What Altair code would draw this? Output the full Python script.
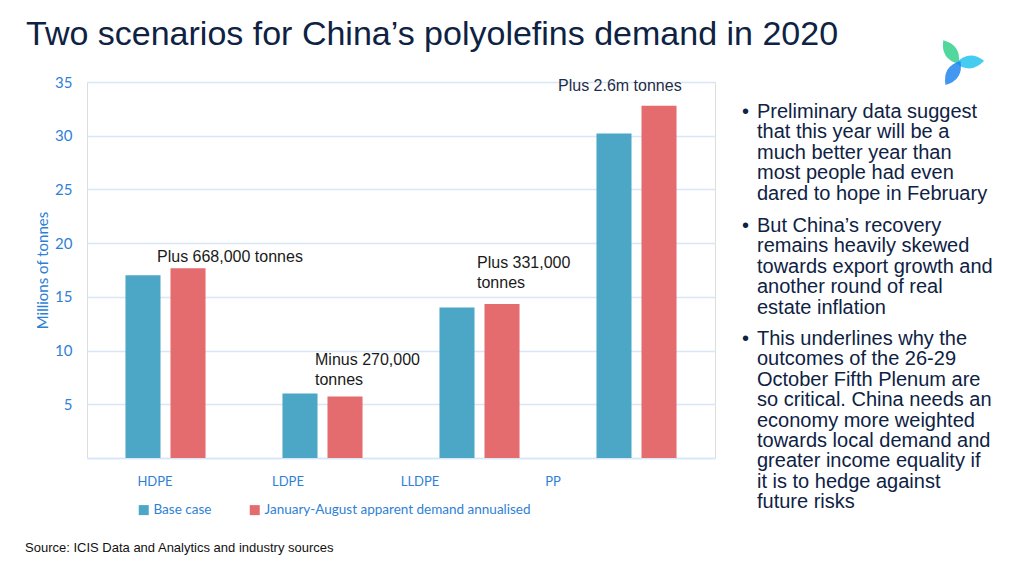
import altair as alt
import pandas as pd

categories = ["HDPE", "LDPE", "LLDPE", "PP"]
series = ["Base case", "January-August apparent demand annualised"]
base_case = [17.0, 6.0, 14.0, 30.2]
annualised = [17.67, 5.73, 14.33, 32.8]
y_ticks = [0, 5, 10, 15, 20, 25, 30, 35]

title_text = "Two scenarios for China\u2019s polyolefins demand in 2020"
source_text = "Source: ICIS Data and Analytics and industry sources"
annotations = [
    ["Plus 668,000 tonnes"],
    ["Minus 270,000", "tonnes"],
    ["Plus 331,000", "tonnes"],
    ["Plus 2.6m tonnes"],
]
bullets = [
    ["Preliminary data suggest", "that this year will be a", "much better year than",
     "most people had even", "dared to hope in February"],
    ["But China\u2019s recovery", "remains heavily skewed", "towards export growth and",
     "another round of real", "estate inflation"],
    ["This underlines why the", "outcomes of the 26-29", "October Fifth Plenum are",
     "so critical. China needs an", "economy more weighted", "towards local demand and",
     "greater income equality if", "it is to hedge against", "future risks"],
]

BLUE_BAR = "#4ca6c5"
RED_BAR = "#e46b6e"
AXIS_BLUE = "#2f7fd6"
GRID = "#d8e7f8"
NAVY = "#0e2244"
CAL = "Lato"
ARIAL = "Liberation Sans"

# plot origin on page
OX, OY = 87, 82
W, H = 628, 376

rows = []
for c, b, a in zip(categories, base_case, annualised):
    rows.append({"category": c, "series": series[0], "value": b})
    rows.append({"category": c, "series": series[1], "value": a})
df = pd.DataFrame(rows)

x_offsets = {"HDPE": -10.5, "LDPE": -34.5, "LLDPE": -59.5, "PP": -83.5}
label_offset = {
    "condition": [{"test": f"datum.value === '{k}'", "value": v} for k, v in x_offsets.items()],
    "value": 0,
}

bars = alt.Chart(df).mark_bar().encode(
    x=alt.X("category:N", sort=categories,
            scale=alt.Scale(paddingInner=0.49, paddingOuter=0.245),
            axis=alt.Axis(title=None, labelFont=CAL, labelFontSize=13, labelColor=AXIS_BLUE,
                          ticks=False, domainColor=GRID, domainWidth=1.5, labelPadding=17,
                          labelAngle=0, grid=False, labelOffset=label_offset)),
    xOffset=alt.XOffset("series:N", sort=series,
                        scale=alt.Scale(paddingInner=0.222, paddingOuter=0)),
    y=alt.Y("value:Q", scale=alt.Scale(domain=[0, 35], nice=False),
            axis=alt.Axis(values=y_ticks, labelExpr="datum.value == 0 ? '' : datum.label",
                          labelFont=CAL, labelFontSize=15, labelColor=AXIS_BLUE,
                          labelPadding=15, ticks=False, domain=False, gridColor=GRID,
                          gridWidth=1.5, title="Millions of tonnes", titleFont=CAL,
                          titleFontSize=15, titleFontWeight="normal", titleColor=AXIS_BLUE,
                          titlePadding=4)),
    color=alt.Color("series:N", sort=series,
                    scale=alt.Scale(domain=series, range=[BLUE_BAR, RED_BAR]),
                    legend=alt.Legend(orient="none", legendX=50, legendY=421,
                                      direction="horizontal", title=None, symbolType="square",
                                      symbolSize=100, symbolStrokeWidth=0, symbolOpacity=1,
                                      labelFont=CAL, labelFontSize=13.5, labelColor=AXIS_BLUE,
                                      columnPadding=36, labelOffset=3, labelLimit=0)),
)

dummy = pd.DataFrame({"d": [0]})


def txt(lines, x, y, size, color, font=ARIAL, align="left", line_height=None):
    kw = dict(align=align, baseline="alphabetic", font=font, fontSize=size, color=color)
    if line_height:
        kw["lineHeight"] = line_height
    val = lines if isinstance(lines, str) else (lines if len(lines) > 1 else lines[0])
    return alt.Chart(dummy).mark_text(**kw).encode(
        x=alt.value(x - OX), y=alt.value(y - OY), text=alt.value(val))


layers = [bars]
layers.append(txt(title_text, 26, 45, 34, NAVY))
layers.append(txt(source_text, 25, 552, 13, "#111111"))

ann_pos = [(157, 262), (315, 365), (477, 268), (558, 90.7)]
ann_col = ["#1a1a1a", "#1a1a1a", "#1a1a1a", "#1f2d4a"]
for lines, (ax, ay), col in zip(annotations, ann_pos, ann_col):
    layers.append(txt(lines, ax, ay, 16, col, line_height=19.5))

bullet_y = [118, 232, 345]
for lines, by in zip(bullets, bullet_y):
    layers.append(txt("\u2022", 742, by, 20, NAVY))
    layers.append(txt(lines, 757, by, 20, NAVY, line_height=20.4))

# logo petals
petal = "M-1,0 Q0,-0.9 1,0 Q0,0.9 -1,0 Z"
for px, py, ang, col in [(951, 52, 57, "#34d08c"), (970, 62, 355, "#27c3ee"), (953, 73, 302, "#2186ee")]:
    layers.append(alt.Chart(dummy).mark_point(shape=petal, filled=True, size=800, color=col,
                                              opacity=0.85, angle=ang)
                  .encode(x=alt.value(px - OX), y=alt.value(py - OY)))

chart = alt.layer(*layers).properties(
    width=W, height=H,
    autosize=alt.AutoSizeParams(type="none"),
    padding={"left": OX - 8, "top": OY - 8, "right": 1008 - (OX - 8) - W, "bottom": 560 - (OY - 8) - H},
).configure_view(stroke=None).configure(background="white")

chart.save("out.html", embed_options={"renderer": "svg", "actions": False})
